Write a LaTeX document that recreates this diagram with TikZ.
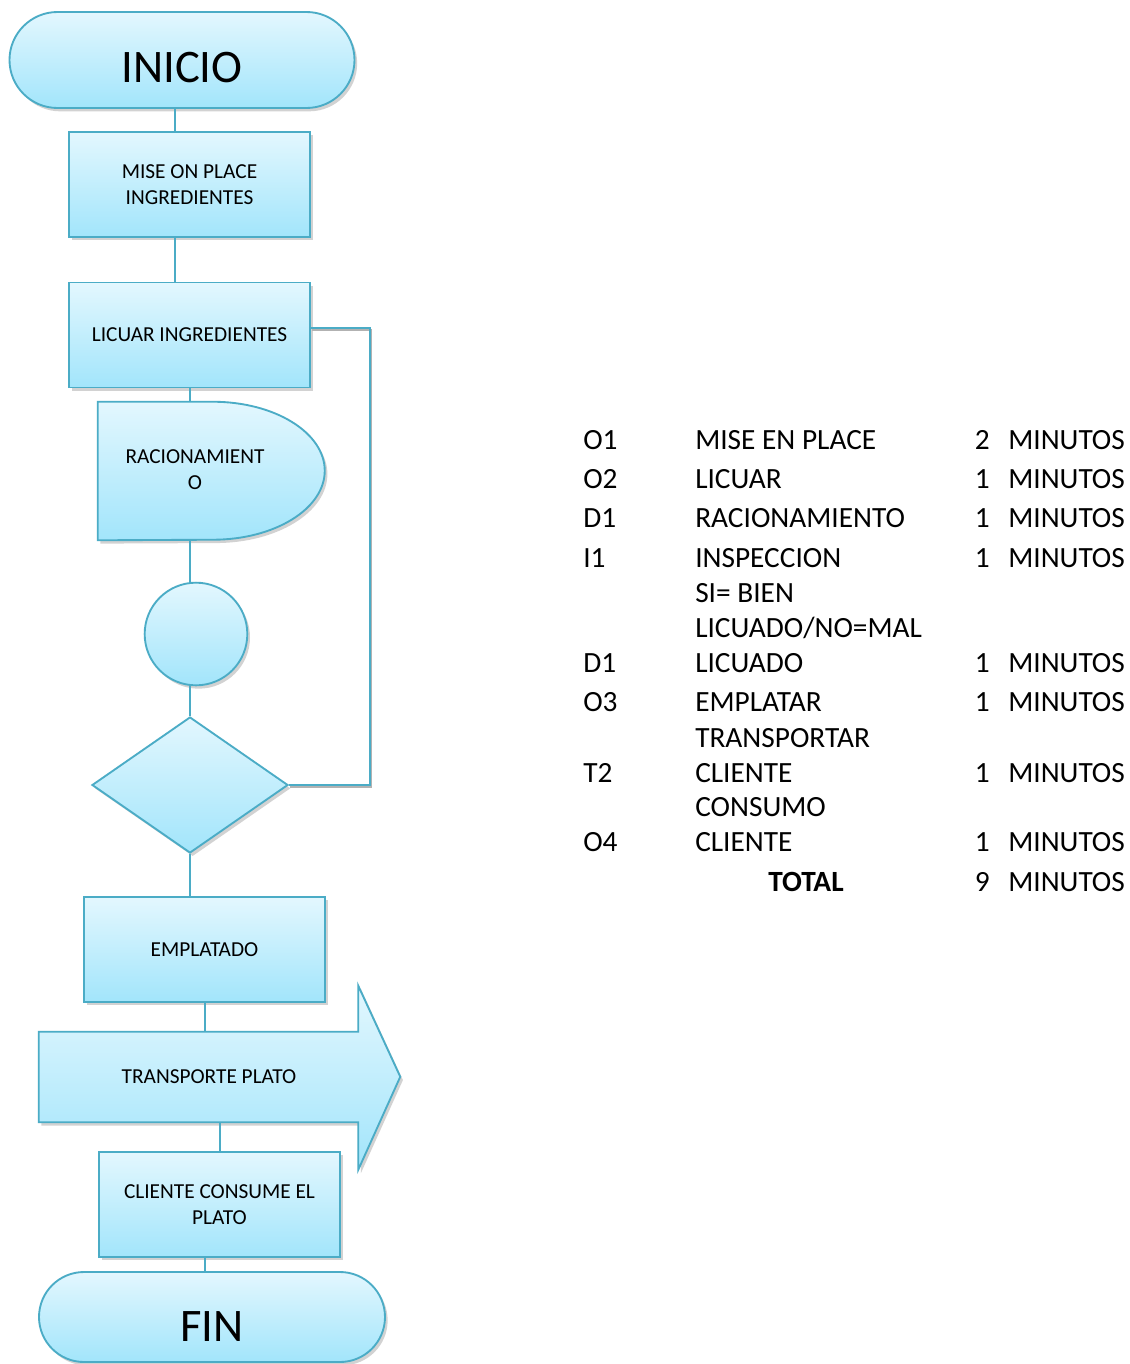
\documentclass[tikz,border=0pt]{standalone}
\usepackage{fontspec}
\setmainfont{Carlito}
\usetikzlibrary{shapes.geometric,shadows}
\definecolor{flowline}{HTML}{4BACC6}
\definecolor{flowtop}{HTML}{E3F7FE}
\definecolor{flowbot}{HTML}{A2E5FB}
\tikzset{
  flowshape/.style={draw=flowline, line width=1.4pt, top color=flowtop, bottom color=flowbot,
    drop shadow={shadow xshift=2pt, shadow yshift=-2.5pt, fill=black!35}},
  terminal/.style={flowshape, rectangle, text depth=0pt, font=\fontsize{35}{40}\selectfont},
  process/.style={flowshape, rectangle, minimum width=180.75pt, minimum height=78.75pt,
    align=center, font=\fontsize{16}{19.5}\selectfont},
  boxtext/.style={align=center, font=\fontsize{16}{19.5}\selectfont},
  conn/.style={draw=flowline, line width=1.5pt},
  tabtext/.style={inner sep=0pt, anchor=base west, font=\fontsize{22}{26}\selectfont},
  tabnum/.style={tabtext, anchor=base east}
}
\begin{document}
\begin{tikzpicture}[x=0.75pt,y=-0.75pt]
\useasboundingbox[fill=white] (0,0) rectangle (1130,1364);
% flow chart
\node[terminal, minimum width=258.75pt, minimum height=72pt, rounded corners=36pt, text height=33pt] (inicio) at (182,60) {INICIO};
\node[process] (mise) at (189.5,184.5) {MISE ON PLACE\\INGREDIENTES};
\node[process] (licuar) at (189.5,335) {LICUAR INGREDIENTES};
\node[inner sep=0pt, minimum width=170.25pt, minimum height=103.5pt] (racion) at (211.5,471) {};
\draw[flowshape] (racion.north west) -- ++(115,0)
  arc[start angle=90, end angle=-90, x radius=84pt, y radius=51.75pt] -- (racion.south west) -- cycle;
\node[boxtext] (racionTxt) at (195,470) {RACIONAMIENT\\O};
\node[flowshape, circle, minimum size=77pt, inner sep=0pt] (insp) at (196,634) {};
\node[flowshape, diamond, aspect=1.44, minimum width=147pt, minimum height=102pt, inner sep=0pt] (decis) at (190,785) {};
\node[process] (emplat) at (204.5,949.5) {EMPLATADO};
\node[inner sep=0pt, minimum width=239.25pt, minimum height=67.5pt] (transp) at (198.5,1077) {};
\draw[flowshape] (transp.north west) -- (transp.north east) -- ++(0,-46) -- ++(42,91) -- ++(-42,93)
  -- (transp.south east) -- (transp.south west) -- cycle;
\node[boxtext] (transpTxt) at (209,1077) {TRANSPORTE PLATO};
\node[process] (cliente) at (219.5,1204.5) {CLIENTE CONSUME EL\\PLATO};
\node[terminal, minimum width=259.5pt, minimum height=67.5pt, rounded corners=33.75pt, text height=36pt] (fin) at (212,1317) {FIN};
% connectors
\draw[conn] ([xshift=-5.25pt]inicio.south) -- ([xshift=-5.25pt]inicio.south |- mise.north);
\draw[conn] ([xshift=-10.9pt]mise.south) -- ([xshift=-10.9pt]mise.south |- licuar.north);
\draw[conn] (licuar.south) -- (licuar.south |- racion.north);
\draw[conn] (licuar.south |- racion.south) -- (licuar.south |- insp.north);
\draw[conn] (decis.north |- insp.south) -- (decis.north);
\draw[conn] (decis.south) -- (decis.south |- emplat.north);
\draw[conn] (emplat.south) -- (emplat.south |- transp.north);
\draw[conn] (cliente.north |- transp.south) -- (cliente.north);
\draw[conn] ([xshift=-10.9pt]cliente.south) -- ([xshift=-10.9pt]cliente.south |- fin.north);
% loop back, with its grey shadow
\draw[black!30, line width=1.5pt, transform canvas={xshift=1pt, yshift=-1.5pt}]
  (decis.east) -| ([xshift=44.25pt,yshift=5.25pt]licuar.east) -- ([yshift=5.25pt]licuar.east);
\draw[conn] (decis.east) -| ([xshift=44.25pt,yshift=5.25pt]licuar.east) -- ([yshift=5.25pt]licuar.east);
% times table
\node[tabtext] (code1) at (583,449) {O1};
\node[tabtext] (desc1) at (695,449) {MISE EN PLACE};
\node[tabnum] (num1) at (990,449) {2};
\node[tabtext] (unit1) at (1008,449) {MINUTOS};
\node[tabtext] (code2) at (583,488) {O2};
\node[tabtext] (desc2) at (695,488) {LICUAR};
\node[tabnum] (num2) at (990,488) {1};
\node[tabtext] (unit2) at (1008,488) {MINUTOS};
\node[tabtext] (code3) at (583,527) {D1};
\node[tabtext] (desc3) at (695,527) {RACIONAMIENTO};
\node[tabnum] (num3) at (990,527) {1};
\node[tabtext] (unit3) at (1008,527) {MINUTOS};
\node[tabtext] (code4) at (583,567) {I1};
\node[tabtext] (desc4) at (695,567) {INSPECCION};
\node[tabnum] (num4) at (990,567) {1};
\node[tabtext] (unit4) at (1008,567) {MINUTOS};
\node[tabtext] (desc4b) at (695,602) {SI= BIEN};
\node[tabtext] (desc4c) at (695,637) {LICUADO/NO=MAL};
\node[tabtext] (code5) at (583,672) {D1};
\node[tabtext] (desc5) at (695,672) {LICUADO};
\node[tabnum] (num5) at (990,672) {1};
\node[tabtext] (unit5) at (1008,672) {MINUTOS};
\node[tabtext] (code6) at (583,711) {O3};
\node[tabtext] (desc6) at (695,711) {EMPLATAR};
\node[tabnum] (num6) at (990,711) {1};
\node[tabtext] (unit6) at (1008,711) {MINUTOS};
\node[tabtext] (desc7a) at (695,747) {TRANSPORTAR};
\node[tabtext] (code7) at (583,782) {T2};
\node[tabtext] (desc7) at (695,782) {CLIENTE};
\node[tabnum] (num7) at (990,782) {1};
\node[tabtext] (unit7) at (1008,782) {MINUTOS};
\node[tabtext] (desc8a) at (695,816) {CONSUMO};
\node[tabtext] (code8) at (583,851) {O4};
\node[tabtext] (desc8) at (695,851) {CLIENTE};
\node[tabnum] (num8) at (990,851) {1};
\node[tabtext] (unit8) at (1008,851) {MINUTOS};
\node[tabtext, anchor=base, font=\fontsize{22}{26}\selectfont\bfseries] (total) at (806,891) {TOTAL};
\node[tabnum] (numT) at (990,891) {9};
\node[tabtext] (unitT) at (1008,891) {MINUTOS};
\end{tikzpicture}
\end{document}
